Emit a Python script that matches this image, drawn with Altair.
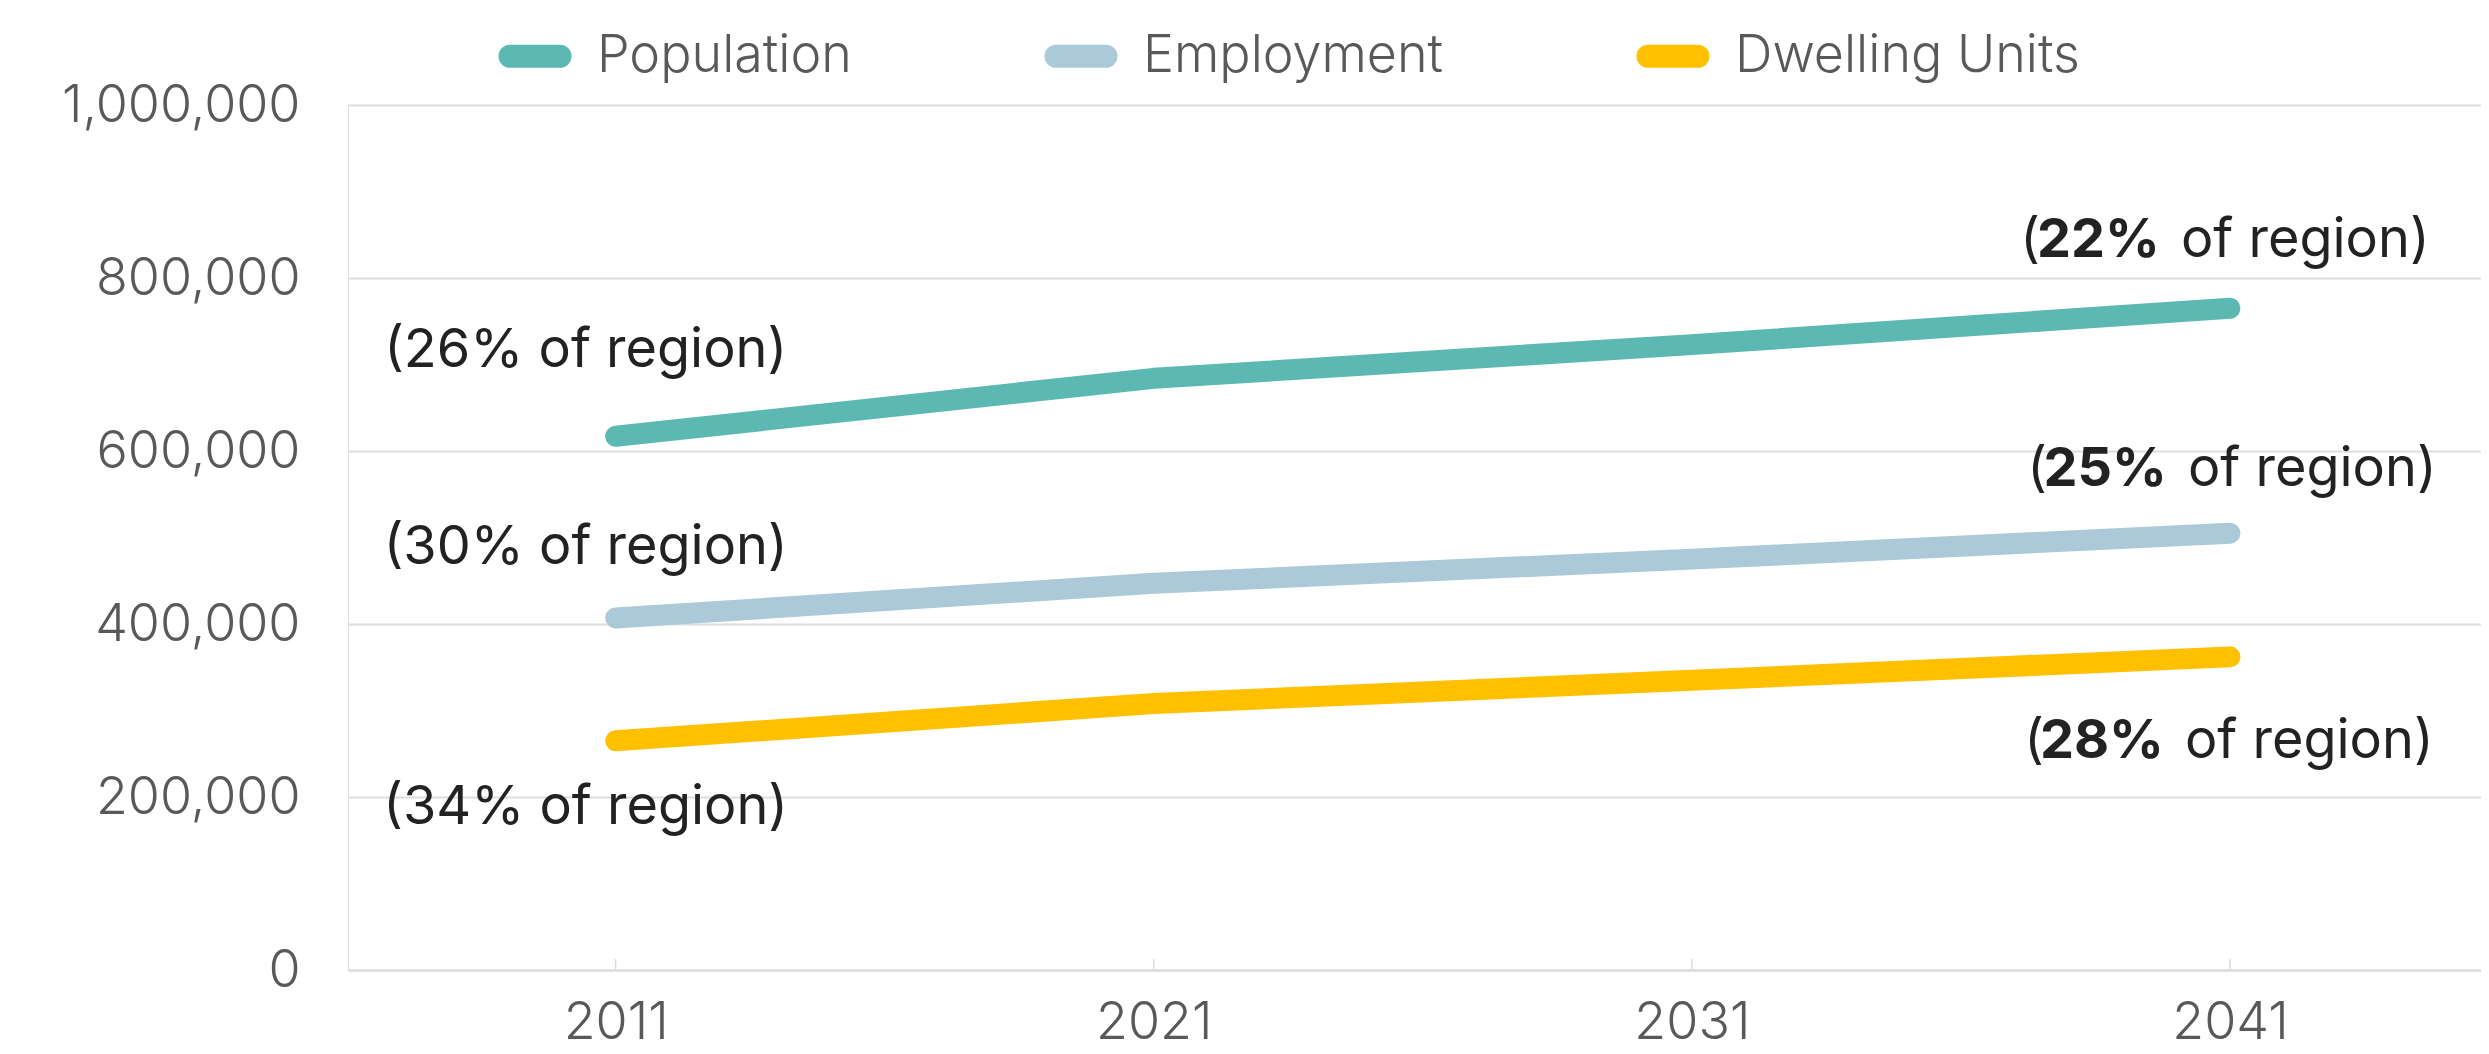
import altair as alt
import pandas as pd

# ---- data ----
years = ["2011", "2021", "2031", "2041"]
series = ["Population", "Employment", "Dwelling Units"]
population = [617000, 684000, 723000, 765000]
employment = [407000, 447000, 475000, 505000]
dwellings = [265000, 308000, 335000, 362000]
share_2011 = ["26%", "30%", "34%"]
share_2041 = ["22%", "25%", "28%"]
y_ticks = [0, 200000, 400000, 600000, 800000, 1000000]
colors = ["#5BB8B2", "#ABC9D8", "#FFC000"]

rows = []
for s, vals in zip(series, [population, employment, dwellings]):
    for yr, v in zip(years, vals):
        rows.append({"series": s, "year": yr, "value": v})
df = pd.DataFrame(rows)

# ---- style ----
W, H = 2133, 865
FONT = "Inter"
TXT = 54
x_scale = alt.Scale(type="point", domain=years, padding=0.482, align=0.516)
y_scale = alt.Scale(domain=[0, 1000000])
color_scale = alt.Scale(domain=series, range=colors)

X = alt.X("year:O", scale=x_scale,
          axis=alt.Axis(title=None, labelAngle=0, ticks=False, grid=False,
                        domain=True, domainColor="#dddddd", domainWidth=2.5,
                        labelFont=FONT, labelFontSize=52, labelFontWeight=300,
                        labelColor="#595959", labelPadding=27, labelLimit=0))
Y = alt.Y("value:Q", scale=y_scale,
          axis=alt.Axis(title=None, values=y_ticks, format=",.0f", ticks=False,
                        domain=False, grid=True, gridColor="#dddddd", gridWidth=2,
                        labelFont=FONT, labelFontSize=52, labelFontWeight=300,
                        labelColor="#595959", labelPadding=48, labelLimit=0))

# thin pill outline; a thick stroke turns it into a rounded bar
PILL = "M-1,-0.06 L1,-0.06 A0.06,0.06 0 0 1 1,0.06 L-1,0.06 A0.06,0.06 0 0 1 -1,-0.06 Z"

left_dx = -30
left_dy = [-69, -54, 83]
right_anchor_dx = -70
right_dx = [0, 7, 4]
right_dy = [-51, -47, 101]
bold_w = 118
gap = 21

lines = alt.Chart(df).mark_line(strokeWidth=21, strokeCap="round", strokeJoin="round").encode(
    x=X, y=Y,
    color=alt.Color("series:N", scale=color_scale, sort=series,
                    legend=alt.Legend(title=None, orient="none", direction="horizontal",
                                      legendX=152, legendY=-84,
                                      symbolType=PILL, symbolSize=2500,
                                      symbolStrokeWidth=20, columnPadding=162,
                                      labelFont=FONT, labelFontSize=52, labelFontWeight=300,
                                      labelColor="#595959", labelOffset=27, labelLimit=0)),
)

ticks_df = pd.DataFrame({"year": years})
ticks = alt.Chart(ticks_df).mark_rule(color="#dddddd", strokeWidth=1.5).encode(
    x=X,
    y=alt.value(H - 11),
    y2=alt.value(H),
)

layers = [ticks, lines]

for i, s in enumerate(series):
    start = df[(df.series == s) & (df.year == years[0])].copy()
    start["label"] = "(" + share_2011[i] + " of region)"
    layers.append(
        alt.Chart(start).mark_text(font=FONT, fontSize=TXT, color="#222222", align="center",
                                   baseline="alphabetic", dx=left_dx, dy=left_dy[i]).encode(
            x=X, y=Y, text="label:N")
    )
    end = df[(df.series == s) & (df.year == years[-1])].copy()
    end["open"] = "("
    end["pct"] = share_2041[i]
    end["rest"] = "of region)"
    ax = right_anchor_dx + right_dx[i]
    layers.append(alt.Chart(end).mark_text(font=FONT, fontSize=TXT, color="#222222", align="right",
                                           baseline="alphabetic", dx=ax - bold_w - 2, dy=right_dy[i]).encode(text="open:N", x=X, y=Y))
    layers.append(alt.Chart(end).mark_text(font=FONT, fontSize=TXT, fontWeight="bold", color="#222222", align="right",
                                           baseline="alphabetic", dx=ax, dy=right_dy[i]).encode(text="pct:N", x=X, y=Y))
    layers.append(alt.Chart(end).mark_text(font=FONT, fontSize=TXT, color="#222222", align="left",
                                           baseline="alphabetic", dx=ax + gap, dy=right_dy[i]).encode(text="rest:N", x=X, y=Y))

chart = alt.layer(*layers).properties(
    width=W, height=H,
    autosize=alt.AutoSizeParams(type="none"),
    padding={"left": 340, "top": 97, "right": 0, "bottom": 80},
).configure_view(stroke=None).configure(background="white")

chart.save("out.html", embed_options={"renderer": "svg", "actions": False})
